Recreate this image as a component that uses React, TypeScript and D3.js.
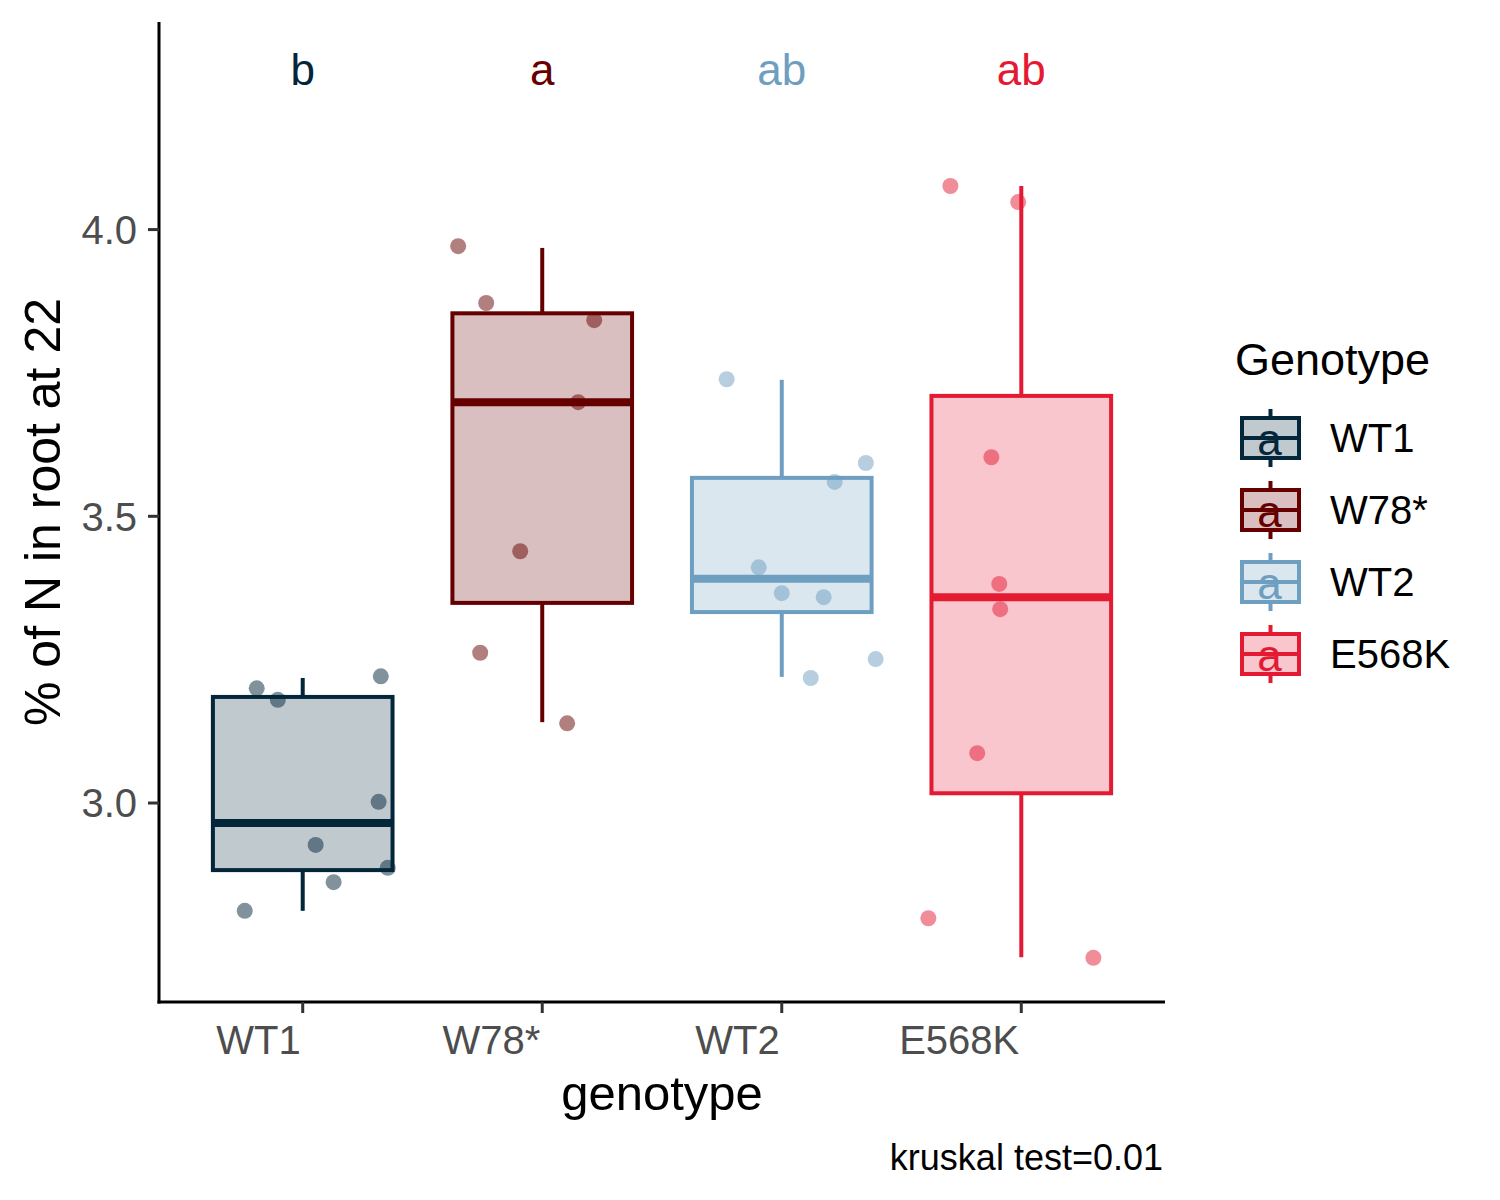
import * as d3 from "d3";

// genotypes, in plotting order
const genotypes = ["WT1", "W78*", "WT2", "E568K"];
const colors = ["#03263b", "#660000", "#6e9ec0", "#e41a33"];

// box statistics
const whiskerLow = [2.812, 3.141, 3.22, 2.731];
const q1 = [2.883, 3.349, 3.333, 3.017];
const medians = [2.965, 3.699, 3.391, 3.359];
const q3 = [3.185, 3.854, 3.567, 3.71];
const whiskerHigh = [3.218, 3.968, 3.738, 4.076];

// raw observations (value) and their horizontal jitter (fraction of a category step)
const wt1Values = [3.2, 3.18, 3.221, 3.002, 2.927, 2.887, 2.862, 2.812];
const wt1Jitter = [-0.192, -0.104, 0.326, 0.317, 0.054, 0.355, 0.129, -0.242];
const w78Values = [3.971, 3.872, 3.842, 3.699, 3.439, 3.262, 3.139];
const w78Jitter = [-0.351, -0.234, 0.217, 0.15, -0.092, -0.259, 0.104];
const wt2Values = [3.739, 3.593, 3.56, 3.411, 3.366, 3.359, 3.251, 3.218];
const wt2Jitter = [-0.23, 0.351, 0.221, -0.096, 0.0, 0.175, 0.392, 0.121];
const e568kValues = [4.076, 4.048, 3.603, 3.382, 3.338, 3.087, 2.799, 2.73];
const e568kJitter = [-0.296, -0.013, -0.125, -0.092, -0.088, -0.184, -0.388, 0.301];

// compact letter display
const groupLetters = ["b", "a", "ab", "ab"];
const letterY = 4.28;

const yTicks = [3.0, 3.5, 4.0];
const yDomain: [number, number] = [2.653, 4.362];
const testLabel = "kruskal test=0.01";

const FONT = "'Liberation Sans', Arial, Helvetica, sans-serif";

export default function App() {
  const width = 1500;
  const height = 1200;
  const panel = { left: 159, right: 1165, top: 22, bottom: 1002 };

  const x = d3
    .scalePoint<string>()
    .domain(genotypes)
    .range([panel.left, panel.right])
    .padding(0.6);
  const step = x.step();
  const boxW = step * 0.75;

  const y = d3.scaleLinear().domain(yDomain).range([panel.bottom, panel.top]);

  const points = [
    { values: wt1Values, jitter: wt1Jitter },
    { values: w78Values, jitter: w78Jitter },
    { values: wt2Values, jitter: wt2Jitter },
    { values: e568kValues, jitter: e568kJitter },
  ];

  const legend = { x: 1242, firstCenter: 438, row: 72, keyW: 57 };

  return (
    <svg
      width={width}
      height={height}
      style={{ position: "absolute", left: 0, top: 0, background: "#fff" }}
      fontFamily={FONT}
    >
      {/* boxes */}
      {genotypes.map((g, i) => {
        const cx = x(g)!;
        const c = colors[i];
        return (
          <g key={g}>
            <line x1={cx} x2={cx} y1={y(whiskerHigh[i])} y2={y(q3[i])} stroke={c} strokeWidth={4} />
            <line x1={cx} x2={cx} y1={y(q1[i])} y2={y(whiskerLow[i])} stroke={c} strokeWidth={4} />
            <rect
              x={cx - boxW / 2}
              y={y(q3[i])}
              width={boxW}
              height={y(q1[i]) - y(q3[i])}
              fill={c}
              fillOpacity={0.25}
              stroke={c}
              strokeWidth={4}
            />
            <line
              x1={cx - boxW / 2}
              x2={cx + boxW / 2}
              y1={y(medians[i])}
              y2={y(medians[i])}
              stroke={c}
              strokeWidth={8}
            />
          </g>
        );
      })}

      {/* jittered points */}
      {points.map((p, i) =>
        p.values.map((v, j) => (
          <circle
            key={`${i}-${j}`}
            cx={x(genotypes[i])! + p.jitter[j] * step}
            cy={y(v)}
            r={8}
            fill={colors[i]}
            fillOpacity={0.5}
          />
        ))
      )}

      {/* letters */}
      {genotypes.map((g, i) => (
        <text
          key={g}
          x={x(g)}
          y={y(letterY)}
          dy="0.36em"
          textAnchor="middle"
          fontSize={44}
          fill={colors[i]}
        >
          {groupLetters[i]}
        </text>
      ))}

      {/* axes */}
      <line x1={panel.left} x2={panel.left} y1={panel.top} y2={panel.bottom + 1.5} stroke="#000" strokeWidth={3} />
      <line x1={panel.left - 1.5} x2={panel.right} y1={panel.bottom} y2={panel.bottom} stroke="#000" strokeWidth={3} />
      {yTicks.map((t) => (
        <g key={t}>
          <line x1={panel.left - 11} x2={panel.left} y1={y(t)} y2={y(t)} stroke="#333" strokeWidth={3} />
          <text
            x={panel.left - 22}
            y={y(t)}
            dy="0.36em"
            textAnchor="end"
            fontSize={40}
            fill="#4d4d4d"
          >
            {d3.format(".1f")(t)}
          </text>
        </g>
      ))}
      {genotypes.map((g) => (
        <g key={g}>
          <line x1={x(g)} x2={x(g)} y1={panel.bottom} y2={panel.bottom + 11} stroke="#333" strokeWidth={3} />
          <text x={x(g)! - 2} y={1054} textAnchor="end" fontSize={40} fill="#4d4d4d">
            {g}
          </text>
        </g>
      ))}

      {/* axis titles */}
      <text x={(panel.left + panel.right) / 2} y={1110} textAnchor="middle" fontSize={49} fill="#000">
        genotype
      </text>
      <text
        transform={`translate(60, ${(panel.top + panel.bottom) / 2}) rotate(-90)`}
        textAnchor="middle"
        fontSize={50}
        fill="#000"
      >
        % of N in root at 22
      </text>
      <text x={1163} y={1170} textAnchor="end" fontSize={36} fill="#000">
        {testLabel}
      </text>

      {/* legend */}
      <text x={1235} y={375} fontSize={45} fill="#000">
        Genotype
      </text>
      {genotypes.map((g, i) => {
        const c = colors[i];
        const cy = legend.firstCenter + i * legend.row;
        const cx = legend.x + legend.keyW / 2;
        return (
          <g key={g}>
            <line x1={cx} x2={cx} y1={cy - 29} y2={cy + 29} stroke={c} strokeWidth={4} />
            <rect x={legend.x} y={cy - 20} width={legend.keyW} height={40} fill="#fff" />
            <rect
              x={legend.x}
              y={cy - 20}
              width={legend.keyW}
              height={40}
              fill={c}
              fillOpacity={0.25}
              stroke={c}
              strokeWidth={4}
            />
            <line x1={legend.x} x2={legend.x + legend.keyW} y1={cy} y2={cy} stroke={c} strokeWidth={4} />
            <text x={cx - 1} y={cy + 17} textAnchor="middle" fontSize={44} fill={c}>
              a
            </text>
            <text x={1330} y={cy} dy="0.36em" fontSize={40} fill="#000">
              {g}
            </text>
          </g>
        );
      })}
    </svg>
  );
}
